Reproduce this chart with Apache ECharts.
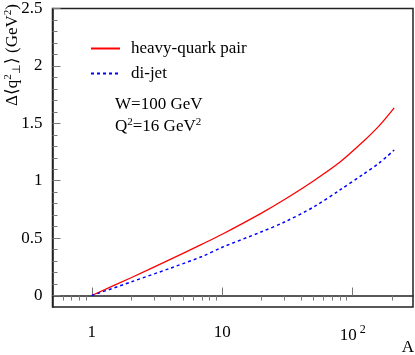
<!DOCTYPE html>
<html>
<head>
<meta charset="utf-8">
<script src="https://cdn.jsdelivr.net/npm/echarts@6/dist/echarts.min.js"></script>
<style>
  html, body { margin: 0; padding: 0; background: #fff; }
  #main { width: 415px; height: 355px; }
</style>
</head>
<body>
<div id="main"></div>
<script>
// nucleus mass number A
var massNumbers = [1, 2, 4, 7, 10, 20, 30, 50, 80, 120, 160, 208];
// broadening in GeV^2
var heavyQuark = [0, 0.155, 0.315, 0.447, 0.534, 0.718, 0.836, 0.998, 1.163, 1.34, 1.48, 1.635];
var diJet = [0, 0.118, 0.238, 0.34, 0.42, 0.555, 0.64, 0.77, 0.92, 1.055, 1.155, 1.267];

var xMajorTicks = [1, 10, 100];
var xMinorTicks = [0.6, 0.7, 0.8, 0.9, 2, 3, 4, 5, 6, 7, 8, 9, 20, 30, 40, 50, 60, 70, 80, 90, 200];
var yMajorTicks = [0, 0.5, 1, 1.5, 2, 2.5];
var yMinorTicks = [0.1, 0.2, 0.3, 0.4, 0.6, 0.7, 0.8, 0.9, 1.1, 1.2, 1.3, 1.4,
                   1.6, 1.7, 1.8, 1.9, 2.1, 2.2, 2.3, 2.4];

var serif = 'Liberation Serif';
var myChart = echarts.init(document.getElementById('main'));

function pairs(ys) {
    var out = [];
    for (var i = 0; i < massNumbers.length; i++) {
        out.push([massNumbers[i], ys[i]]);
    }
    return out;
}

var option = {
    animation: false,
    grid: {
        left: 52.5,
        right: 2,
        top: 7.5,
        bottom: 48,
        show: true,
        borderColor: '#222',
        borderWidth: 1.5
    },
    legend: {
        orient: 'vertical',
        left: 85,
        top: 35,
        itemWidth: 29,
        itemHeight: 14,
        itemGap: 8,
        itemStyle: { opacity: 0 },
        textStyle: { fontFamily: serif, fontSize: 17, color: '#000', padding: [0, 0, 0, 6] },
        data: ['heavy-quark pair', 'di-jet']
    },
    xAxis: [{
        type: 'log',
        min: 0.5,
        max: 290,
        axisLine: { lineStyle: { color: '#222', width: 1.5 } },
        axisTick: { inside: true, length: 8, customValues: xMajorTicks, lineStyle: { color: '#777' } },
        axisLabel: {
            customValues: xMajorTicks,
            margin: 17,
            fontFamily: serif,
            fontSize: 17,
            color: '#000',
            formatter: function (v) {
                if (v >= 100) return '{b|10}{s|2}';
                return String(Math.round(v));
            },
            rich: {
                b: { fontFamily: serif, fontSize: 17, color: '#000' },
                s: { fontFamily: serif, fontSize: 12, color: '#000', verticalAlign: 'bottom', padding: [0, 0, 12, 3] }
            }
        },
        splitLine: { show: false }
    }, {
        type: 'log',
        min: 0.5,
        max: 290,
        axisLine: { show: false },
        axisTick: { inside: true, length: 5, customValues: xMinorTicks, lineStyle: { color: '#777' } },
        axisLabel: { show: false },
        splitLine: { show: false }
    }],
    yAxis: [{
        type: 'value',
        min: -0.1,
        max: 2.5,
        axisLine: { show: true, lineStyle: { color: '#222', width: 1.5 } },
        axisTick: { show: true, inside: true, length: 8, customValues: yMajorTicks, lineStyle: { color: '#777' } },
        axisLabel: {
            customValues: yMajorTicks,
            margin: 10,
            fontFamily: serif,
            fontSize: 17,
            color: '#000',
            formatter: function (v) { return String(v); }
        },
        splitLine: { show: false }
    }, {
        type: 'value',
        min: -0.1,
        max: 2.5,
        position: 'left',
        axisLine: { show: false },
        axisTick: { show: true, inside: true, length: 5, customValues: yMinorTicks, lineStyle: { color: '#777' } },
        axisLabel: { show: false },
        splitLine: { show: false }
    }],
    graphic: [{
        type: 'text',
        x: 13,
        y: 4,
        rotation: Math.PI / 2,
        style: {
            text: 'Δ⟨q{sup|2}{sub|⊥}⟩ (GeV{sup|2})',
            align: 'right',
            verticalAlign: 'middle',
            font: '17px ' + serif,
            fill: '#000',
            rich: {
                sup: { fontFamily: serif, fontSize: 11, fill: '#000', verticalAlign: 'bottom', padding: [0, 0, 10, 0] },
                sub: { fontFamily: serif, fontSize: 11, fill: '#000', verticalAlign: 'top', padding: [9, 0, 0, 0] }
            }
        }
    }, {
        type: 'text',
        x: 115,
        y: 105,
        style: {
            text: 'W=100 GeV',
            verticalAlign: 'middle',
            font: '17px ' + serif,
            fill: '#000'
        }
    }, {
        type: 'text',
        x: 115,
        y: 127,
        style: {
            text: 'Q{sup|2}=16 GeV{sup|2}',
            verticalAlign: 'middle',
            font: '17px ' + serif,
            fill: '#000',
            rich: {
                sup: { fontFamily: serif, fontSize: 11, fill: '#000', verticalAlign: 'bottom', padding: [0, 0, 10, 0] }
            }
        }
    }, {
        type: 'text',
        x: 408,
        y: 348,
        style: {
            text: 'A',
            align: 'center',
            verticalAlign: 'middle',
            font: '17px ' + serif,
            fill: '#000'
        }
    }],
    series: [{
        name: 'heavy-quark pair',
        type: 'line',
        smooth: 0.3,
        symbol: 'none',
        lineStyle: { color: '#ff0000', width: 1.3 },
        itemStyle: { color: '#ff0000' },
        data: pairs(heavyQuark)
    }, {
        name: 'di-jet',
        type: 'line',
        smooth: 0.3,
        symbol: 'none',
        lineStyle: { color: '#0000ff', width: 1.5, type: [3, 3] },
        itemStyle: { color: '#0000ff' },
        data: pairs(diJet)
    }]
};
myChart.setOption(option);
</script>
</body>
</html>
